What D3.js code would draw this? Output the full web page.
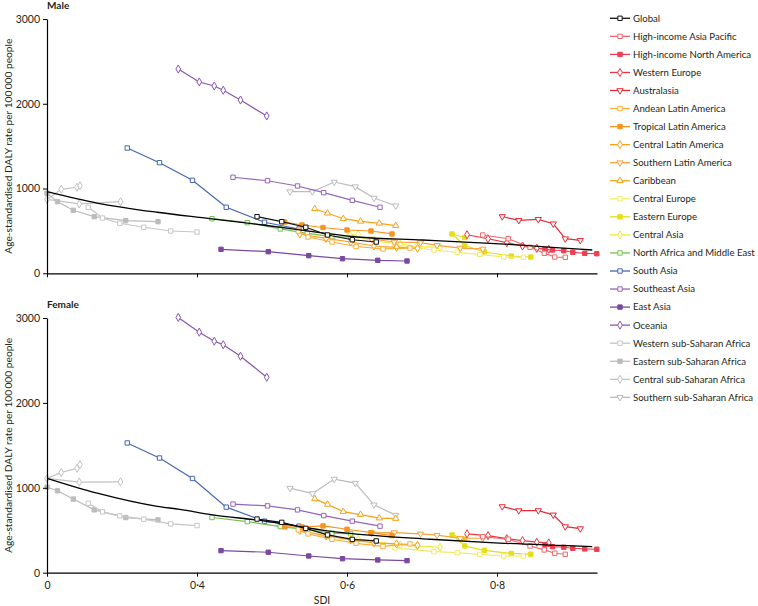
<!DOCTYPE html>
<html>
<head>
<meta charset="utf-8">
<script src="https://cdn.jsdelivr.net/npm/d3@7"></script>
<style>
  body { margin: 0; background: #fff; }
  svg { font-family: Lato, "Open Sans", sans-serif; }
</style>
</head>
<body>
<div id="chart"></div>
<script>
// regions, in legend order
const regions = [
  "Global", "High-income Asia Pacific", "High-income North America", "Western Europe", "Australasia",
  "Andean Latin America", "Tropical Latin America", "Central Latin America", "Southern Latin America", "Caribbean",
  "Central Europe", "Eastern Europe", "Central Asia", "North Africa and Middle East", "South Asia",
  "Southeast Asia", "East Asia", "Oceania", "Western sub-Saharan Africa", "Eastern sub-Saharan Africa",
  "Central sub-Saharan Africa", "Southern sub-Saharan Africa"
];
const colours = [
  "#111111", "#f2676c", "#f03e52", "#ec3640", "#e62a36",
  "#fbae3c", "#f7941d", "#f9a11b", "#f8a13a", "#f7a21b",
  "#f1ec62", "#e6de1a", "#efea3a", "#74c054", "#4566b3",
  "#9466bb", "#7a48a2", "#8957ae", "#c6c6c6", "#bcbcbc",
  "#c2c2c2", "#bbbbbb"
];
// sq = open square, fsq = filled square, dia = diamond, tdown / tup = triangles
const symbols = [
  "sq", "sq", "fsq", "dia", "tdown",
  "sq", "fsq", "dia", "tdown", "tup",
  "sq", "fsq", "dia", "sq", "sq",
  "sq", "fsq", "dia", "sq", "fsq",
  "dia", "tdown"
];

// SDI for 1990, 1995, 2000, 2005, 2010, 2016
const sdi = [
  [0.480, 0.513, 0.545, 0.574, 0.607, 0.639],
  [0.781, 0.815, 0.844, 0.863, 0.877, 0.891],
  [0.864, 0.874, 0.889, 0.901, 0.917, 0.933],
  [0.760, 0.788, 0.813, 0.834, 0.853, 0.869],
  [0.807, 0.829, 0.855, 0.875, 0.891, 0.911],
  [0.535, 0.548, 0.580, 0.612, 0.648, 0.684],
  [0.517, 0.540, 0.568, 0.600, 0.632, 0.660],
  [0.537, 0.572, 0.605, 0.636, 0.666, 0.694],
  [0.633, 0.663, 0.698, 0.720, 0.751, 0.781],
  [0.557, 0.574, 0.595, 0.618, 0.643, 0.665],
  [0.664, 0.716, 0.747, 0.777, 0.809, 0.835],
  [0.757, 0.740, 0.757, 0.783, 0.819, 0.845],
  [0.615, 0.604, 0.637, 0.671, 0.693, 0.724],
  [0.420, 0.467, 0.511, 0.547, 0.580, 0.605],
  [0.307, 0.350, 0.394, 0.439, 0.490, 0.536],
  [0.448, 0.494, 0.534, 0.569, 0.607, 0.644],
  [0.432, 0.495, 0.549, 0.594, 0.641, 0.680],
  [0.375, 0.403, 0.423, 0.435, 0.458, 0.493],
  [0.255, 0.274, 0.297, 0.329, 0.365, 0.400],
  [0.200, 0.214, 0.235, 0.263, 0.305, 0.348],
  [0.298, 0.243, 0.200, 0.219, 0.240, 0.244],
  [0.524, 0.554, 0.583, 0.611, 0.636, 0.665]
];

const maleRate = [
  [668, 609, 543, 452, 396, 369],
  [452, 408, 307, 236, 192, 189],
  [283, 275, 267, 248, 236, 231],
  [455, 408, 361, 322, 295, 283],
  [670, 625, 637, 584, 408, 389],
  [499, 428, 369, 316, 287, 298],
  [605, 570, 540, 511, 499, 464],
  [464, 413, 369, 322, 307, 295],
  [405, 369, 361, 330, 298, 287],
  [762, 708, 644, 613, 590, 562],
  [334, 275, 248, 224, 192, 189],
  [422, 464, 328, 251, 204, 192],
  [460, 452, 381, 346, 314, 307],
  [644, 597, 523, 472, 432, 425],
  [1478, 1305, 1097, 779, 602, 523],
  [1133, 1092, 1030, 951, 861, 779],
  [283, 255, 208, 172, 153, 145],
  [2410, 2257, 2210, 2159, 2044, 1856],
  [779, 652, 590, 543, 499, 487],
  [944, 845, 743, 668, 621, 609],
  [845, 818, 873, 991, 1015, 1033],
  [963, 963, 1077, 1022, 888, 797]
];

const femaleRate = [
  [632, 593, 522, 445, 392, 374],
  [425, 394, 315, 268, 229, 217],
  [327, 307, 300, 288, 280, 276],
  [458, 437, 401, 378, 359, 351],
  [779, 732, 732, 681, 543, 519],
  [504, 457, 394, 345, 309, 339],
  [540, 538, 551, 512, 472, 437],
  [498, 433, 386, 351, 339, 323],
  [469, 472, 457, 442, 406, 406],
  [870, 805, 720, 685, 643, 638],
  [292, 248, 236, 217, 197, 197],
  [398, 445, 315, 264, 227, 218],
  [394, 406, 362, 327, 315, 300],
  [650, 602, 543, 508, 466, 458],
  [1528, 1351, 1110, 772, 607, 548],
  [808, 787, 740, 673, 607, 548],
  [260, 241, 197, 165, 150, 142],
  [3007, 2833, 2727, 2685, 2550, 2302],
  [819, 717, 669, 630, 575, 555],
  [1008, 965, 867, 740, 649, 622],
  [1070, 1067, 1110, 1181, 1230, 1272],
  [996, 933, 1103, 1055, 799, 678]
];

// expected values based on SDI (black curve)
const expSdiMale = [0.200, 0.267, 0.347, 0.417, 0.493, 0.564, 0.613, 0.701, 0.791, 0.927];
const expMale = [963, 829, 720, 646, 564, 481, 428, 393, 354, 275];
const expSdiFemale = [0.200, 0.267, 0.347, 0.377, 0.421, 0.484, 0.581, 0.711, 0.791, 0.927];
const expFemale = [1112, 937, 782, 746, 681, 616, 484, 394, 354, 307];

const sdiTicks = [0.2, 0.4, 0.6, 0.8];
const sdiTickLabels = ["0", "0·4", "0·6", "0·8"];
const rateTicks = [0, 1000, 2000, 3000];

function drawChart() {
    const width = 758;
    const height = 606;

    const svg = d3.select("#chart")
        .append("svg")
        .attr("width", width)
        .attr("height", height);

    const x = d3.scaleLinear().domain([0.2, 0.9333]).range([47, 597]);

    const symbolPath = (s) => {
        if (s === "sq" || s === "fsq") return d3.symbol(d3.symbolSquare, 19)();
        if (s === "dia") return d3.symbol(d3.symbolDiamond, 19)();
        return d3.symbol(d3.symbolTriangle, 17)();
    };

    const addMarker = (g, s, c, px, py) => {
        g.append("path")
            .attr("d", symbolPath(s))
            .attr("transform", `translate(${px},${py})` + (s === "tdown" ? " rotate(180)" : ""))
            .attr("fill", s === "fsq" ? c : "#fff")
            .attr("stroke", c)
            .attr("stroke-width", 1);
    };

    const panels = [
        { title: "Male", top: 19, bottom: 273.3, rates: maleRate, expX: expSdiMale, expY: expMale, labels: false, titleY: 9 },
        { title: "Female", top: 318, bottom: 572.7, rates: femaleRate, expX: expSdiFemale, expY: expFemale, labels: true, titleY: 307.5 }
    ];

    panels.forEach(p => {
        const y = d3.scaleLinear().domain([0, 3000]).range([p.bottom, p.top]);
        const g = svg.append("g");

        // region trajectories, drawn back to front so Global ends on top
        const order = d3.range(regions.length).reverse().filter(i => i !== 0);
        const line = d3.line().x(d => x(d[0])).y(d => y(d[1]));

        order.forEach(i => {
            const pts = sdi[i].map((s, j) => [s, p.rates[i][j]]);
            const rg = g.append("g");
            rg.append("path")
                .attr("d", line(pts))
                .attr("fill", "none")
                .attr("stroke", colours[i])
                .attr("stroke-width", 1.2);
            pts.forEach(d => addMarker(rg, symbols[i], colours[i], x(d[0]), y(d[1])));
        });

        // expected curve
        g.append("path")
            .datum(p.expX.map((s, j) => [s, p.expY[j]]))
            .attr("fill", "none")
            .attr("stroke", "#000")
            .attr("stroke-width", 1.3)
            .attr("d", d3.line().curve(d3.curveMonotoneX).x(d => x(d[0])).y(d => y(d[1])));

        // global on top
        const gpts = sdi[0].map((s, j) => [s, p.rates[0][j]]);
        g.append("path")
            .attr("d", line(gpts))
            .attr("fill", "none")
            .attr("stroke", colours[0])
            .attr("stroke-width", 1.2);
        gpts.forEach(d => addMarker(g, symbols[0], colours[0], x(d[0]), y(d[1])));

        // axes
        const yAxis = g.append("g")
            .attr("transform", "translate(47,0)")
            .call(d3.axisLeft(y).tickValues(rateTicks).tickSize(4).tickSizeOuter(0).tickFormat(d3.format("d")));
        const xAxis = g.append("g")
            .attr("transform", `translate(0,${p.bottom})`)
            .call(d3.axisBottom(x).tickValues(sdiTicks).tickSize(4).tickSizeOuter(0)
                .tickFormat((d, i) => p.labels ? sdiTickLabels[i] : ""));
        [yAxis, xAxis].forEach(a => {
            a.selectAll("path.domain").attr("stroke", "#000").attr("stroke-width", 1.2);
            a.selectAll(".tick line").attr("stroke", "#000");
            a.selectAll(".tick text")
                .attr("fill", "#231f20")
                .style("font-family", "Lato, sans-serif")
                .style("font-size", "10.5px");
        });
        xAxis.selectAll(".tick text").attr("dy", "0.9em");

        svg.append("text")
            .attr("x", 47)
            .attr("y", p.titleY)
            .attr("font-weight", "bold")
            .attr("font-size", 10)
            .attr("fill", "#231f20")
            .text(p.title);

        svg.append("text")
            .attr("transform", `translate(12,${(p.top + p.bottom) / 2}) rotate(-90)`)
            .attr("text-anchor", "middle")
            .attr("font-size", 10.2)
            .attr("fill", "#231f20")
            .text("Age-standardised DALY rate per 100\u2009000 people");
    });

    svg.append("text")
        .attr("x", 322)
        .attr("y", 604)
        .attr("text-anchor", "middle")
        .attr("font-size", 10.5)
        .attr("fill", "#231f20")
        .text("SDI");

    // legend
    const legend = svg.append("g");
    regions.forEach((name, i) => {
        const ly = 18.3 + i * 18.05;
        legend.append("line")
            .attr("x1", 610).attr("x2", 630)
            .attr("y1", ly).attr("y2", ly)
            .attr("stroke", colours[i])
            .attr("stroke-width", 1.3);
        addMarker(legend, symbols[i], colours[i], 620, ly);
        legend.append("text")
            .attr("x", 633)
            .attr("y", ly)
            .attr("dy", "0.35em")
            .attr("font-size", 9.6)
            .attr("fill", "#231f20")
            .text(name);
    });
}

document.addEventListener('DOMContentLoaded', () => {
    drawChart();
});
</script>
</body>
</html>
